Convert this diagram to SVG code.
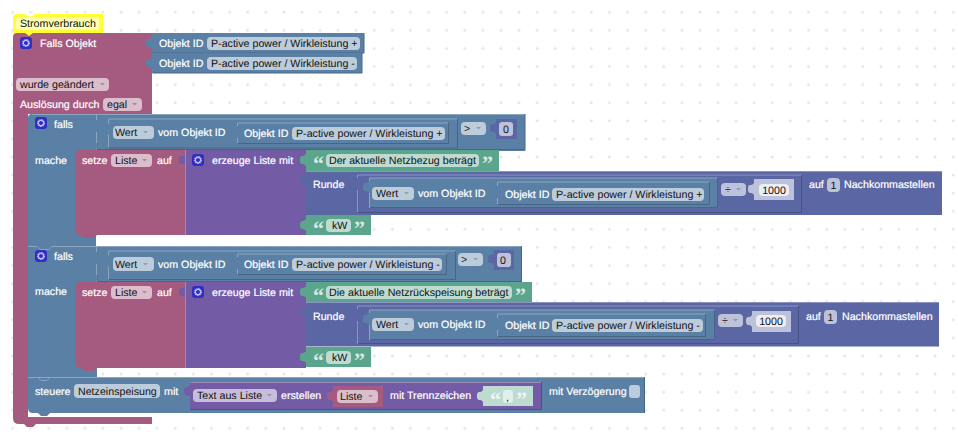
<svg xmlns="http://www.w3.org/2000/svg" xmlns:xlink="http://www.w3.org/1999/xlink" width="958" height="439" viewBox="0 0 958 439">
<style>
text{font-family:"Liberation Sans",Arial,sans-serif;font-size:10.67px;text-rendering:geometricPrecision}
.t{fill:#fff;stroke:#fff;stroke-width:.2}
.d{fill:#111}
.blue{fill:#5b80a5}.red{fill:#a55b80}.pur{fill:#745ba5}.grn{fill:#5ba58c}.mth{fill:#5b67a5}
.cb{fill:#bdccdb}.cr{fill:#dbbdcc}.cp{fill:#c7bddb}.cg{fill:#bddbd1}.cm{fill:#bdc2db}.cl{fill:#e3efea}
.hb,.sb,.hm,.sm,.hp,.sp,.hr,.sr,.hg,.sg{fill:none;stroke-width:1}
.hb{stroke:#8ca6c0}.sb{stroke:#486684}.hm{stroke:#8c95c0}.sm{stroke:#485284}.hp{stroke:#9d8cc0}.sp{stroke:#5c4884}.hr{stroke:#c08ca6}.sr{stroke:#844866}.hg{stroke:#8cc0ae}.sg{stroke:#488470}
.q{font-family:"Liberation Serif",serif;font-size:22px;font-weight:bold;fill:#d6e8e1}
.ar{fill:#8d9fb3}.arr{fill:#a88ca0}.arp{fill:#9c90b0}.arm{fill:#8f96b8}
</style>
<defs>
<pattern id="grid" x="12.5" y="12.3" width="18.09" height="18.09" patternUnits="userSpaceOnUse"><path d="M-1.5 0H1.5M0-1.5V1.5M16.59 0h3M18.09-1.5v3M-1.5 18.09h3M0 16.59v3M16.59 18.09h3M18.09 16.59v3" stroke="#dcdcdc" fill="none"/></pattern>
<path id="tab" d="M7 0C5 0 5 2 3 2C0 2 0 4 0 6C0 8 0 10 3 10C5 10 5 12 7 12Z"/>
<g id="gear"><rect width="12" height="12" rx="3" fill="#2f2fc4"/><circle cx="6" cy="6" r="3" fill="none" stroke="#c9c6ee" stroke-width="1.8" stroke-dasharray="1.4 .6"/><circle cx="6" cy="6" r="2.6" fill="none" stroke="#c9c6ee" stroke-width=".9"/></g>
<path id="dn" d="M0 0h5l-2.500 2.500z"/>
</defs>
<rect width="958" height="439" fill="#fff"/>
<rect width="958" height="439" fill="url(#grid)"/>

<g id="falls-objekt">
<path class="red" d="M13 37Q13 33 17 33H152V114H28V417H152V424H36L33 427H27L24 424H19Q13 424 13 418Z"/>
<use xlink:href="#gear" x="20" y="37"/>
<text class="t" x="40" y="47">Falls Objekt</text>
<rect class="cr" x="16" y="78" width="93" height="13" rx="4"/>
<text class="d" x="20" y="88">wurde geändert</text><use xlink:href="#dn" x="100" y="83" class="arr"/>
<text class="t" x="20" y="108">Auslösung durch</text>
<rect class="cr" x="103" y="98" width="39" height="13" rx="4"/>
<text class="d" x="107" y="108">egal</text><use xlink:href="#dn" x="132" y="103" class="arr"/>
</g>

<g id="objekt-id-plus">
<use xlink:href="#tab" x="146" y="37" class="blue"/>
<rect class="blue" x="152" y="33" width="212" height="20"/>
<path class="sb" d="M152.500 53H364V33"/>
<text class="t" x="159" y="47">Objekt ID</text>
<rect class="cb" x="207" y="37" width="153" height="13" rx="4"/>
<text class="d" x="211" y="47">P-active power / Wirkleistung +</text>
</g>
<g id="objekt-id-minus">
<use xlink:href="#tab" x="146" y="57" class="blue"/>
<rect class="blue" x="152" y="53" width="210" height="20"/>
<path class="sb" d="M152.500 73H362V53"/>
<text class="t" x="159" y="67">Objekt ID</text>
<rect class="cb" x="207" y="57" width="150" height="13" rx="4"/>
<text class="d" x="211" y="67">P-active power / Wirkleistung -</text>
</g>

<g id="falls-1">
<path class="blue" d="M28 118Q28 114 32 114H525V151H96V246H28Z"/>
<path class="hb" d="M32 114.500H525"/>
<path class="sb" d="M525 114V150.500"/>
<use xlink:href="#gear" x="35" y="117"/>
<text class="t" x="54" y="128">falls</text>
<path class="hb" d="M96.500 114V150M108.500 119H457M108.500 119V147.500"/>
<use xlink:href="#tab" x="90" y="120" class="blue"/>
<path class="sb" d="M97 143V149.500H524M457.500 119V148H109"/>
<use xlink:href="#tab" x="103" y="123" class="blue"/>
<path class="hb" d="M237.500 123H448M237.500 123V143"/>
<path class="sb" d="M448.500 123V143.500H238"/>
<use xlink:href="#tab" x="231" y="126" class="blue"/>
<rect class="cb" x="113" y="126" width="41" height="13" rx="4"/>
<text class="d" x="115" y="136">Wert</text><use xlink:href="#dn" x="143" y="131" class="ar"/>
<text class="t" x="158" y="136">vom Objekt ID</text>
<text class="t" x="244" y="137">Objekt ID</text>
<rect class="cb" x="292" y="127" width="153" height="13" rx="4"/>
<text class="d" x="296" y="137">P-active power / Wirkleistung +</text>
<rect class="cb" x="461" y="122" width="25" height="13" rx="4"/>
<text class="d" x="464" y="132">&gt;</text><use xlink:href="#dn" x="476" y="127" class="ar"/>
<use xlink:href="#tab" x="490" y="122" class="mth"/>
<rect class="mth" x="496" y="119" width="21" height="20"/>
<rect class="cm" x="499" y="122" width="14" height="14" rx="3"/>
<text class="d" x="506" y="133" text-anchor="middle">0</text>
<text class="t" x="35" y="164">mache</text>
</g>

<g id="setze-1">
<path class="red" d="M80 150H185V235H97L94 238H84L81 235Q75 235 75 229V155Q75 150 80 150Z"/>
<text class="t" x="82" y="164">setze</text>
<rect class="cr" x="111" y="154" width="41" height="13" rx="4"/>
<text class="d" x="115" y="164">Liste</text><use xlink:href="#dn" x="142" y="159" class="arr"/>
<text class="t" x="157" y="164">auf</text>
</g>
<g id="liste-1">
<use xlink:href="#tab" x="179" y="154" class="pur"/>
<rect class="pur" x="185" y="150" width="121" height="85"/>
<path class="hp" d="M185.500 150V235"/>
<use xlink:href="#gear" x="192" y="154"/>
<text class="t" x="212" y="164">erzeuge Liste mit</text>
</g>
<g id="text-1">
<use xlink:href="#tab" x="300" y="154" class="grn"/>
<rect class="grn" x="306" y="150" width="193" height="21"/>
<text class="q" x="313" y="171">“</text>
<rect class="cg" x="326" y="154" width="153" height="13" rx="4"/>
<text class="d" x="329" y="164">Der aktuelle Netzbezug beträgt</text>
<text class="q" x="482" y="171">”</text>
</g>
<g id="runde-1">
<use xlink:href="#tab" x="300" y="174" class="mth"/>
<rect class="mth" x="306" y="171" width="636" height="44"/>
<path class="hm" d="M306 171.500H942"/>
<text class="t" x="313" y="188">Runde</text>
<path class="hm" d="M357.500 175H802M357.500 175V212"/>
<path class="sm" d="M801.500 175V212.500H358"/>
<use xlink:href="#tab" x="351" y="178" class="mth"/>
<rect class="blue" x="369" y="178" width="349" height="30"/>
<path class="hb" d="M369.500 178H718M369.500 178V208"/>
<path class="sb" d="M717.500 178V207.500H370"/>
<use xlink:href="#tab" x="363" y="181" class="blue"/>
<path class="hb" d="M497.500 182H710M497.500 182V204"/>
<path class="sb" d="M709.500 182V204.500H498"/>
<use xlink:href="#tab" x="491" y="186" class="blue"/>
<rect class="cb" x="372" y="187" width="42" height="13" rx="4"/>
<text class="d" x="376" y="197">Wert</text><use xlink:href="#dn" x="404" y="192" class="ar"/>
<text class="t" x="418" y="197">vom Objekt ID</text>
<text class="t" x="505" y="198">Objekt ID</text>
<rect class="cb" x="552" y="188" width="152" height="13" rx="4"/>
<text class="d" x="556" y="198">P-active power / Wirkleistung +</text>
<rect class="cm" x="721" y="183" width="25" height="13" rx="4"/>
<text class="d" x="725" y="193">÷</text><use xlink:href="#dn" x="736" y="188" class="arm"/>
<use xlink:href="#tab" x="748" y="183" class="cm"/>
<rect class="cm" x="754" y="179" width="40" height="21"/>
<rect fill="#eceef6" x="759" y="184" width="30" height="12" rx="4"/>
<text class="d" x="774" y="194" text-anchor="middle">1000</text>
<text class="t" x="809" y="188">auf</text>
<rect class="cm" x="827" y="178" width="13" height="14" rx="4"/>
<text class="d" x="833.500" y="189" text-anchor="middle">1</text>
<text class="t" x="844" y="188">Nachkommastellen</text>
</g>
<g id="kw-1">
<use xlink:href="#tab" x="300" y="219" class="grn"/>
<rect class="grn" x="306" y="215" width="65" height="20"/>
<text class="q" x="313" y="236">“</text>
<rect class="cg" x="326" y="219" width="25" height="13" rx="4"/>
<text class="d" x="332" y="229">kW</text>
<text class="q" x="354" y="236">”</text>
</g>

<g id="falls-2">
<path class="blue" d="M28 246H522V282H97V377H28Z"/>
<path class="hb" d="M28 246.500H37L40 249.500H49L52 246.500H522"/>
<path class="sb" d="M521.500 246V282"/>
<use xlink:href="#gear" x="35" y="250"/>
<text class="t" x="54" y="260">falls</text>
<path class="hb" d="M96.500 246V282M108.500 251H456M108.500 251V279"/>
<use xlink:href="#tab" x="90" y="252" class="blue"/>
<path class="sb" d="M97 275V281.500H521M455.500 251V279.500H109"/>
<use xlink:href="#tab" x="103" y="255" class="blue"/>
<path class="hb" d="M237.500 254H447M237.500 254V274"/>
<path class="sb" d="M446.500 254V274.500H238"/>
<use xlink:href="#tab" x="231" y="257" class="blue"/>
<rect class="cb" x="113" y="257" width="41" height="14" rx="4"/>
<text class="d" x="115" y="268">Wert</text><use xlink:href="#dn" x="143" y="263" class="ar"/>
<text class="t" x="158" y="268">vom Objekt ID</text>
<text class="t" x="244" y="268">Objekt ID</text>
<rect class="cb" x="292" y="258" width="150" height="13" rx="4"/>
<text class="d" x="296" y="268">P-active power / Wirkleistung -</text>
<rect class="cb" x="458" y="253" width="25" height="13" rx="4"/>
<text class="d" x="461" y="263">&gt;</text><use xlink:href="#dn" x="473" y="258" class="ar"/>
<use xlink:href="#tab" x="488" y="253" class="mth"/>
<rect class="mth" x="494" y="250" width="20" height="20"/>
<rect class="cm" x="497" y="253" width="14" height="14" rx="3"/>
<text class="d" x="503" y="264" text-anchor="middle">0</text>
<text class="t" x="35" y="295">mache</text>
</g>

<g id="setze-2">
<path class="red" d="M80 282H185V368H97L94 371H84L81 368Q75 368 75 362V287Q75 282 80 282Z"/>
<text class="t" x="82" y="296">setze</text>
<rect class="cr" x="111" y="286" width="41" height="13" rx="4"/>
<text class="d" x="115" y="296">Liste</text><use xlink:href="#dn" x="142" y="291" class="arr"/>
<text class="t" x="157" y="296">auf</text>
</g>
<g id="liste-2">
<use xlink:href="#tab" x="179" y="286" class="pur"/>
<rect class="pur" x="185" y="282" width="121" height="86"/>
<path class="hp" d="M185.500 282V368"/>
<use xlink:href="#gear" x="192" y="286"/>
<text class="t" x="212" y="296">erzeuge Liste mit</text>
</g>
<g id="text-2">
<use xlink:href="#tab" x="300" y="286" class="grn"/>
<rect class="grn" x="306" y="282" width="226" height="20"/>
<text class="q" x="313" y="303">“</text>
<rect class="cg" x="326" y="286" width="186" height="13" rx="4"/>
<text class="d" x="329" y="296">Die aktuelle Netzrückspeisung beträgt</text>
<text class="q" x="515" y="303">”</text>
</g>
<g id="runde-2">
<use xlink:href="#tab" x="300" y="306" class="mth"/>
<rect class="mth" x="306" y="302" width="633" height="44.500"/>
<path class="hm" d="M306 302.500H939"/>
<text class="t" x="313" y="320">Runde</text>
<path class="hm" d="M357.500 306H799M357.500 306V344"/>
<path class="sm" d="M798.500 306V343.500H358"/>
<use xlink:href="#tab" x="351" y="309" class="mth"/>
<rect class="blue" x="369" y="310" width="346" height="30"/>
<path class="hb" d="M369.500 310H715M369.500 310V340"/>
<path class="sb" d="M714.500 310V339.500H370"/>
<use xlink:href="#tab" x="363" y="313" class="blue"/>
<path class="hb" d="M497.500 314H706M497.500 314V336"/>
<path class="sb" d="M705.500 314V336.500H498"/>
<use xlink:href="#tab" x="491" y="318" class="blue"/>
<rect class="cb" x="372" y="318" width="42" height="13" rx="4"/>
<text class="d" x="376" y="328">Wert</text><use xlink:href="#dn" x="404" y="323" class="ar"/>
<text class="t" x="418" y="328">vom Objekt ID</text>
<text class="t" x="505" y="329">Objekt ID</text>
<rect class="cb" x="552" y="319" width="151" height="13" rx="4"/>
<text class="d" x="556" y="329">P-active power / Wirkleistung -</text>
<rect class="cm" x="718" y="314" width="25" height="13" rx="4"/>
<text class="d" x="722" y="324">÷</text><use xlink:href="#dn" x="733" y="319" class="arm"/>
<use xlink:href="#tab" x="746" y="315" class="cm"/>
<rect class="cm" x="752" y="311" width="39" height="21"/>
<rect fill="#eceef6" x="756" y="315" width="30" height="12" rx="4"/>
<text class="d" x="771" y="325" text-anchor="middle">1000</text>
<text class="t" x="806" y="320">auf</text>
<rect class="cm" x="824" y="310" width="13" height="14" rx="4"/>
<text class="d" x="830.500" y="321" text-anchor="middle">1</text>
<text class="t" x="842" y="320">Nachkommastellen</text>
</g>
<g id="kw-2">
<use xlink:href="#tab" x="300" y="351" class="grn"/>
<rect class="grn" x="306" y="347" width="65" height="20"/>
<text class="q" x="313" y="368">“</text>
<rect class="cg" x="326" y="351" width="25" height="13" rx="4"/>
<text class="d" x="332" y="361">kW</text>
<text class="q" x="354" y="368">”</text>
</g>

<g id="steuere">
<path class="blue" d="M28 377H645V413H50L47 416H41L38 413H33Q28 413 28 408Z"/>
<path class="hb" d="M28 377.500H645"/>
<path class="sb" d="M644.500 377V413"/>
<path class="hb" d="M38 377.500L41 380.500H47L50 377.500"/>
<text class="t" x="35" y="395">steuere</text>
<rect class="cb" x="74" y="384" width="86" height="14" rx="4"/>
<text class="d" x="78" y="395">Netzeinspeisung</text>
<text class="t" x="164" y="395">mit</text>
<text class="t" x="549" y="395">mit Verzögerung</text>
<rect class="cb" x="629" y="385" width="11" height="13" rx="3"/>
</g>
<g id="text-aus-liste">
<use xlink:href="#tab" x="184" y="385" class="pur"/>
<rect class="pur" x="190" y="382" width="352" height="28"/>
<path class="hp" d="M190.500 382.500H542"/>
<path class="sp" d="M541.500 382V409.500H190"/>
<rect class="cp" x="193" y="389" width="84" height="13" rx="4"/>
<text class="d" x="197" y="399">Text aus Liste</text><use xlink:href="#dn" x="267" y="394" class="arp"/>
<text class="t" x="281" y="399">erstellen</text>
<use xlink:href="#tab" x="327" y="390" class="red"/>
<rect class="red" x="333" y="386" width="50" height="21"/>
<rect class="cr" x="337" y="390" width="41" height="13" rx="4"/>
<text class="d" x="340" y="400">Liste</text><use xlink:href="#dn" x="368" y="395" class="arr"/>
<text class="t" x="390" y="399">mit Trennzeichen</text>
<use xlink:href="#tab" x="477" y="390" class="cg"/>
<rect class="cg" x="483" y="386" width="50" height="20"/>
<text class="q" x="490" y="407" style="fill:#eef6f3">“</text>
<rect class="cl" x="503" y="390" width="10" height="13" rx="3"/>
<text class="d" x="506" y="401">,</text>
<text class="q" x="516" y="407" style="fill:#eef6f3">”</text>
</g>

<g id="kommentar">
<path fill="#ffff33" d="M17 14H25L28 16.500H32L35 14H103V33H33L29 36L25 33H13V18Q13 14 17 14Z"/>
<rect fill="#ffffb3" x="16" y="17" width="83" height="13" rx="3"/>
<text class="d" x="20" y="27">Stromverbrauch</text>
</g>
</svg>
